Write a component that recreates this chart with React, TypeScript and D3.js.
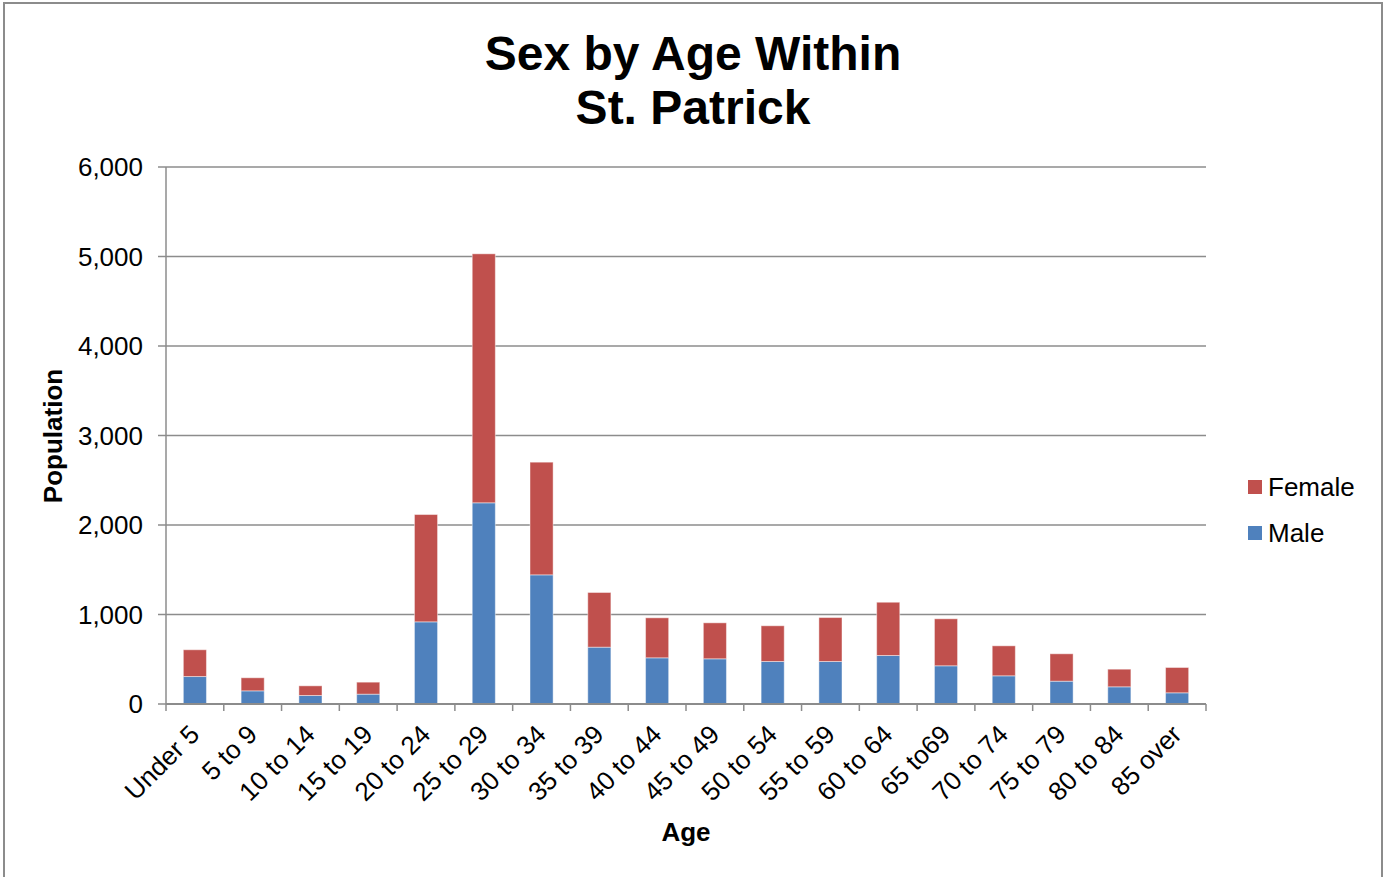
import React, { useRef, useEffect } from "react";
import * as d3 from "d3";

const ageGroups = [
  "Under 5", "5 to 9", "10 to 14", "15 to 19", "20 to 24", "25 to 29",
  "30 to 34", "35 to 39", "40 to 44", "45 to 49", "50 to 54", "55 to 59",
  "60 to 64", "65 to69", "70 to 74", "75 to 79", "80 to 84", "85 over",
];
const maleValues = [307, 147, 95, 110, 918, 2248, 1443, 635, 516, 505, 475, 475, 542, 427, 315, 255, 192, 125];
const femaleValues = [299, 146, 108, 134, 1199, 2782, 1259, 611, 447, 402, 399, 491, 595, 525, 335, 306, 197, 283];
const yTicks = [0, 1000, 2000, 3000, 4000, 5000, 6000];

const seriesNames = ["Male", "Female"];
const seriesColors: Record<string, string> = { Male: "#4F81BD", Female: "#C0504D" };

const WIDTH = 1385;
const HEIGHT = 877;
const FONT = "'Liberation Sans', Arial, sans-serif";

function drawChart(svgEl: SVGSVGElement) {
  const margin = { top: 167, left: 166, right: 179, bottom: 173 };
  const innerW = WIDTH - margin.left - margin.right;
  const innerH = HEIGHT - margin.top - margin.bottom;

  const svg = d3.select(svgEl);
  svg.selectAll("*").remove();

  // outer chart border
  svg
    .append("rect")
    .attr("x", 4)
    .attr("y", 3)
    .attr("width", 1378)
    .attr("height", 900)
    .attr("fill", "white")
    .attr("stroke", "#8c8c8c")
    .attr("stroke-width", 2);

  // title
  const title = svg
    .append("text")
    .attr("text-anchor", "middle")
    .style("font-family", FONT)
    .style("font-weight", "bold")
    .style("font-size", "48px");
  title.append("tspan").attr("x", 693).attr("y", 70).text("Sex by Age Within");
  title.append("tspan").attr("x", 693).attr("y", 124).text("St. Patrick");

  const g = svg.append("g").attr("transform", `translate(${margin.left},${margin.top})`);

  const x = d3.scaleBand<string>().domain(ageGroups).range([0, innerW]).padding(0);
  const y = d3.scaleLinear().domain([0, 6000]).range([innerH, 0]);

  // gridlines
  g.selectAll("line.grid")
    .data(yTicks.filter((t) => t > 0))
    .enter()
    .append("line")
    .attr("x1", 0)
    .attr("x2", innerW)
    .attr("y1", (d) => y(d))
    .attr("y2", (d) => y(d))
    .attr("stroke", "#8c8c8c")
    .attr("stroke-width", 1.5);

  // stacked data
  const rows = ageGroups.map((a, i) => ({ age: a, Male: maleValues[i], Female: femaleValues[i] }));
  const stack = d3.stack<any>().keys(seriesNames)(rows);
  const barW = x.bandwidth() * 0.4;

  g.selectAll("g.series")
    .data(stack)
    .enter()
    .append("g")
    .attr("fill", (d) => seriesColors[d.key])
    .selectAll("rect")
    .data((d) => d)
    .enter()
    .append("rect")
    .attr("x", (d: any) => (x(d.data.age) as number) + (x.bandwidth() - barW) / 2)
    .attr("width", barW)
    .attr("y", (d) => y(d[1]))
    .attr("height", (d) => y(d[0]) - y(d[1]))
    .attr("stroke", "rgba(255,255,255,0.45)")
    .attr("stroke-width", 1);

  // y axis
  const yAxis = g.append("g");
  yAxis
    .append("line")
    .attr("x1", 0)
    .attr("x2", 0)
    .attr("y1", 0)
    .attr("y2", innerH)
    .attr("stroke", "#8c8c8c")
    .attr("stroke-width", 1.5);
  yAxis
    .selectAll("line.tick")
    .data(yTicks)
    .enter()
    .append("line")
    .attr("x1", -8)
    .attr("x2", 0)
    .attr("y1", (d) => y(d))
    .attr("y2", (d) => y(d))
    .attr("stroke", "#8c8c8c")
    .attr("stroke-width", 1.5);
  yAxis
    .selectAll("text")
    .data(yTicks)
    .enter()
    .append("text")
    .attr("x", -23)
    .attr("y", (d) => y(d))
    .attr("dy", "0.36em")
    .attr("text-anchor", "end")
    .style("font-family", FONT)
    .style("font-size", "26px")
    .text((d) => d3.format(",")(d));

  // x axis
  const xAxis = g.append("g").attr("transform", `translate(0,${innerH})`);
  xAxis
    .append("line")
    .attr("x1", 0)
    .attr("x2", innerW)
    .attr("stroke", "#8c8c8c")
    .attr("stroke-width", 2);
  const boundaries = ageGroups.map((a) => x(a) as number).concat([innerW]);
  xAxis
    .selectAll("line.tick")
    .data(boundaries)
    .enter()
    .append("line")
    .attr("x1", (d) => d)
    .attr("x2", (d) => d)
    .attr("y1", 0)
    .attr("y2", 7)
    .attr("stroke", "#8c8c8c")
    .attr("stroke-width", 1.5);
  xAxis
    .selectAll("text")
    .data(ageGroups)
    .enter()
    .append("text")
    .attr("text-anchor", "end")
    .attr(
      "transform",
      (d) => `translate(${(x(d) as number) + x.bandwidth() / 2 + 6},${32}) rotate(-45)`
    )
    .style("font-family", FONT)
    .style("font-size", "26px")
    .text((d) => d);

  // axis titles
  svg
    .append("text")
    .attr("transform", `translate(62,436) rotate(-90)`)
    .attr("text-anchor", "middle")
    .style("font-family", FONT)
    .style("font-weight", "bold")
    .style("font-size", "26px")
    .text("Population");
  svg
    .append("text")
    .attr("x", 686)
    .attr("y", 841)
    .attr("text-anchor", "middle")
    .style("font-family", FONT)
    .style("font-weight", "bold")
    .style("font-size", "26px")
    .text("Age");

  // legend
  const legendItems = ["Female", "Male"];
  const legend = svg
    .selectAll("g.legend")
    .data(legendItems)
    .enter()
    .append("g")
    .attr("transform", (_d, i) => `translate(1248,${480 + i * 46})`);
  legend
    .append("rect")
    .attr("width", 14)
    .attr("height", 14)
    .attr("fill", (d) => seriesColors[d]);
  legend
    .append("text")
    .attr("x", 20)
    .attr("y", 7)
    .attr("dy", "0.36em")
    .style("font-family", FONT)
    .style("font-size", "26px")
    .text((d) => d);
}

const App: React.FunctionComponent = function () {
  const svgRef = useRef<SVGSVGElement>(null);

  useEffect(() => {
    if (svgRef.current == null) {
      return;
    }
    drawChart(svgRef.current);
  }, []);

  return (
    <svg
      ref={svgRef}
      width={WIDTH}
      height={HEIGHT}
      style={{ position: "absolute", left: 0, top: 0, background: "white" }}
    ></svg>
  );
};

export default App;
